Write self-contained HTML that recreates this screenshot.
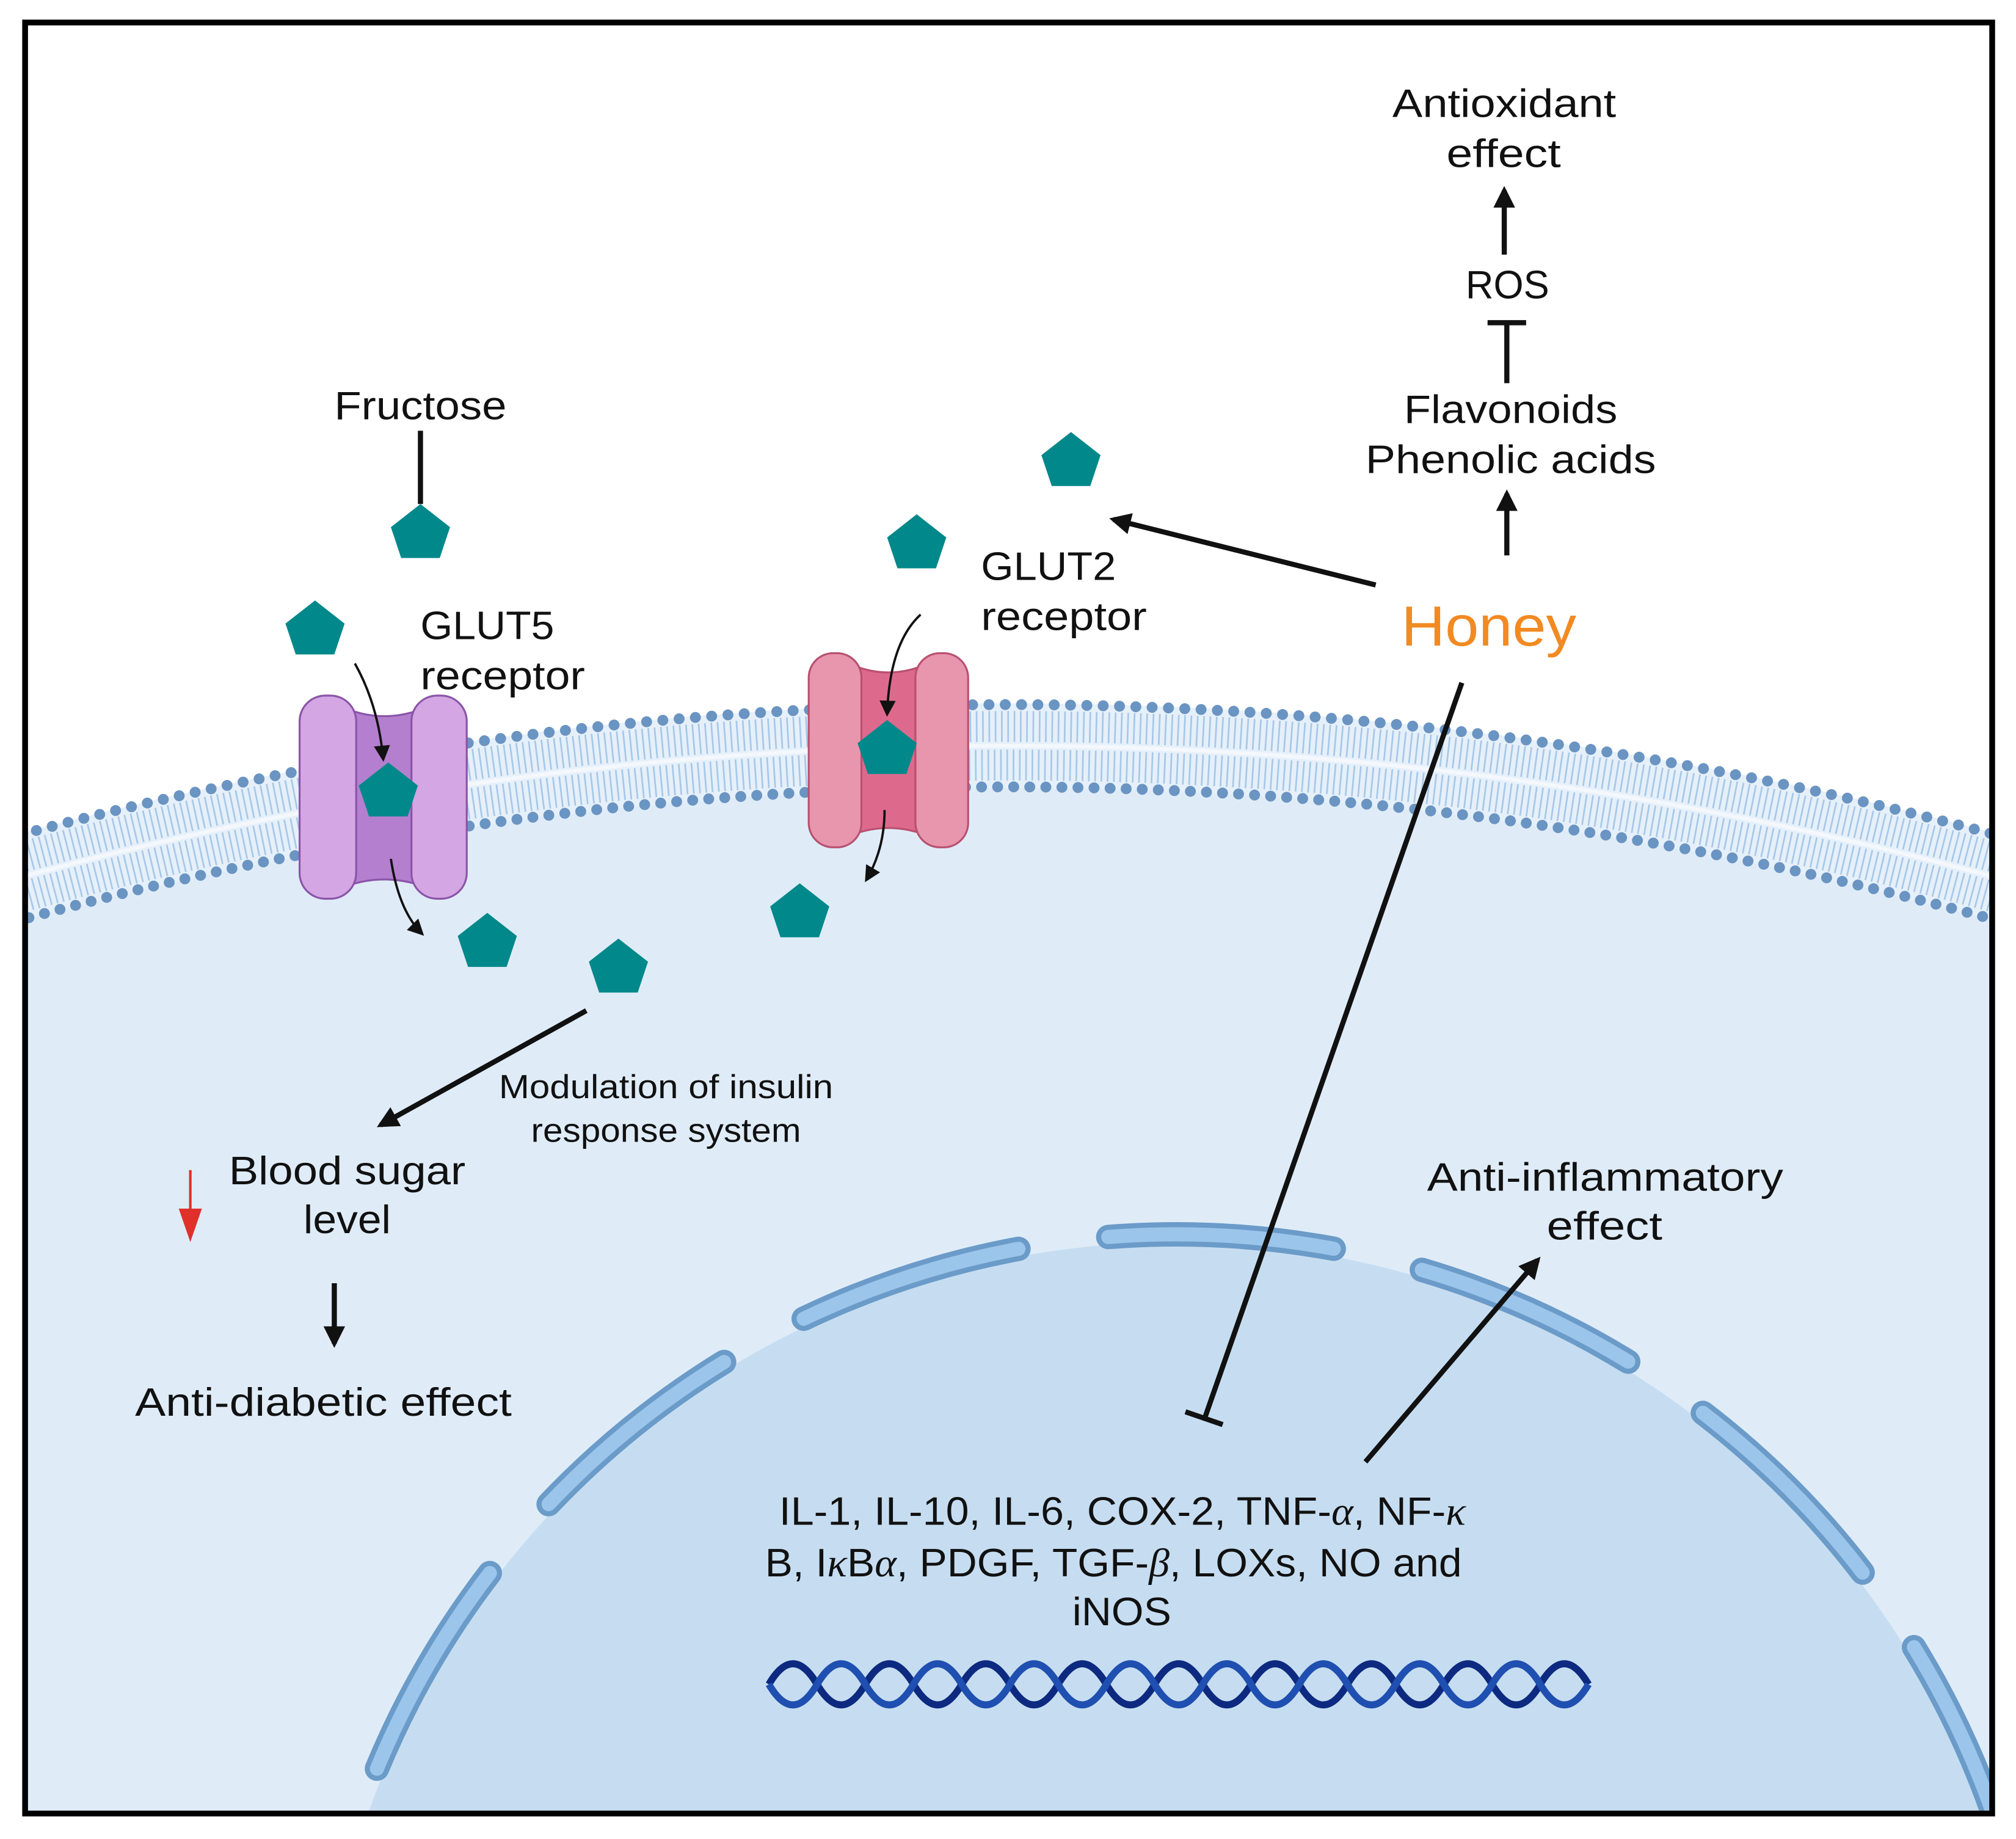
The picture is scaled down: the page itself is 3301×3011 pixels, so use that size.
<!DOCTYPE html>
<html><head><meta charset="utf-8"><style>
html,body{margin:0;padding:0;background:#fff;width:3301px;height:3011px;overflow:hidden;}
svg{display:block;position:absolute;left:0;top:0;}
text{font-family:"Liberation Sans",sans-serif;fill:#111;}
</style></head><body>
<svg width="3301" height="3011" viewBox="0 0 1568 1430.3" xmlns="http://www.w3.org/2000/svg">
<defs>
<clipPath id="frame"><rect x="21" y="19" width="1528" height="1391"/></clipPath>
<path id="pent" d="M0,-21 L23,-3 L15,21 L-15,21 L-23,-3 Z" fill="#00888a"/>
<marker id="ah" viewBox="0 0 10 10" refX="8" refY="5" markerWidth="4.2" markerHeight="4.2" orient="auto" markerUnits="strokeWidth"><path d="M0,0 L10,5 L0,10 Z" fill="#111"/></marker>
<marker id="ahs" viewBox="0 0 10 10" refX="8" refY="5" markerWidth="7" markerHeight="7" orient="auto" markerUnits="strokeWidth"><path d="M0,0 L10,5 L0,10 Z" fill="#111"/></marker>
</defs>
<rect x="0" y="0" width="1568" height="1430.3" fill="#fff"/>
<g clip-path="url(#frame)">
  <circle cx="784" cy="3513" r="2932" fill="#dfecf8"/>
  <circle cx="784" cy="3513" r="2933" fill="none" stroke="#e6f0fa" stroke-width="66"/>
  <circle cx="784" cy="3513" r="2948" fill="none" stroke="#a7c8e8" stroke-width="24" stroke-dasharray="1.3 3.6"/>
  <circle cx="784" cy="3513" r="2918" fill="none" stroke="#a7c8e8" stroke-width="24" stroke-dasharray="1.3 3.6"/>
  <circle cx="784" cy="3513" r="2933" fill="none" stroke="#f4f8fd" stroke-width="3"/>
  <circle cx="784" cy="3513" r="2965" fill="none" stroke="#6a94c2" stroke-width="8.5" stroke-linecap="round" stroke-dasharray="0 12.7"/>
  <circle cx="784" cy="3513" r="2901" fill="none" stroke="#6a94c2" stroke-width="8.5" stroke-linecap="round" stroke-dasharray="0 12.5"/>
  <circle cx="915" cy="1633" r="667" fill="#c6ddf1"/>
  <circle cx="915" cy="1633" r="673" fill="none" stroke="#6b9bc8" stroke-width="19" stroke-linecap="round" pathLength="360" stroke-dasharray="15 6" stroke-dashoffset="7.5"/>
  <circle cx="915" cy="1633" r="673" fill="none" stroke="#9cc5eb" stroke-width="11" stroke-linecap="round" pathLength="360" stroke-dasharray="15 6" stroke-dashoffset="7.5"/>
</g>
<rect x="19.5" y="17.5" width="1530" height="1393" fill="none" stroke="#000" stroke-width="4.5"/>

<g stroke="#8a55a8" stroke-width="1.5">
  <path d="M262,548 Q299,566 336,548 L336,692 Q299,676 262,692 Z" fill="#b47fcf"/>
  <rect x="233" y="541" width="44" height="158" rx="20" fill="#d4a6e3"/>
  <rect x="320" y="541" width="43" height="158" rx="20" fill="#d4a6e3"/>
</g>
<g stroke="#b8506f" stroke-width="1.5">
  <path d="M656,514 Q691,532 726,514 L726,652 Q691,636 656,652 Z" fill="#dd6a8c"/>
  <rect x="629" y="508" width="41" height="151" rx="19" fill="#e895ae"/>
  <rect x="712" y="508" width="41" height="151" rx="19" fill="#e895ae"/>
</g>

<use href="#pent" x="327" y="413"/>
<use href="#pent" x="245" y="488"/>
<use href="#pent" x="302" y="614"/>
<use href="#pent" x="379" y="731"/>
<use href="#pent" x="481" y="751"/>
<use href="#pent" x="622" y="708"/>
<use href="#pent" x="690" y="581"/>
<use href="#pent" x="713" y="421"/>
<use href="#pent" x="833" y="357"/>

<g fill="none" stroke="#111" stroke-width="1.8">
  <path d="M276,516 Q294,548 298,590" marker-end="url(#ahs)"/>
  <path d="M304,668 Q310,708 328,726" marker-end="url(#ahs)"/>
  <path d="M716,478 Q692,500 690,555" marker-end="url(#ahs)"/>
  <path d="M688,630 Q688,660 674,684" marker-end="url(#ahs)"/>
</g>

<g stroke="#111" stroke-width="4" fill="none">
  <line x1="327" y1="335" x2="327" y2="392"/>
  <line x1="1070" y1="455" x2="866" y2="404" marker-end="url(#ah)"/>
  <line x1="1172" y1="432" x2="1172" y2="384" marker-end="url(#ah)"/>
  <line x1="1172" y1="298" x2="1172" y2="251"/>
  <line x1="1157" y1="251" x2="1187" y2="251"/>
  <line x1="1170" y1="198" x2="1170" y2="148" marker-end="url(#ah)"/>
  <line x1="1137" y1="531" x2="937" y2="1103"/>
  <line x1="922" y1="1098" x2="951" y2="1108"/>
  <line x1="1062" y1="1137" x2="1196" y2="980" marker-end="url(#ah)"/>
  <line x1="456" y1="786" x2="296" y2="875" marker-end="url(#ah)"/>
  <line x1="260" y1="998" x2="260" y2="1045" marker-end="url(#ah)"/>
</g>
<line x1="148" y1="910" x2="148" y2="945" stroke="#e0302a" stroke-width="2"/>
<path d="M139,940 L157,940 L148,966 Z" fill="#e0302a"/>

<g fill="none" stroke-width="5.5">
<path stroke="#0d2a80" d="M598,1310 q18.75,-32 37.5,0 t37.5,0 t37.5,0 t37.5,0 t37.5,0 t37.5,0 t37.5,0 t37.5,0 t37.5,0 t37.5,0 t37.5,0 t37.5,0 t37.5,0 t37.5,0 t37.5,0 t37.5,0 t37.5,0"/>
<path stroke="#1f4fb0" d="M598,1310 q18.75,32 37.5,0 t37.5,0 t37.5,0 t37.5,0 t37.5,0 t37.5,0 t37.5,0 t37.5,0 t37.5,0 t37.5,0 t37.5,0 t37.5,0 t37.5,0 t37.5,0 t37.5,0 t37.5,0 t37.5,0"/>
</g>

<g font-size="31">
<text x="260" y="326" textLength="134" lengthAdjust="spacingAndGlyphs">Fructose</text>
<text x="327" y="497" textLength="104" lengthAdjust="spacingAndGlyphs">GLUT5</text>
<text x="327" y="536" textLength="128" lengthAdjust="spacingAndGlyphs">receptor</text>
<text x="763" y="451" textLength="105" lengthAdjust="spacingAndGlyphs">GLUT2</text>
<text x="763" y="490" textLength="129" lengthAdjust="spacingAndGlyphs">receptor</text>
<text x="1083" y="91" textLength="174" lengthAdjust="spacingAndGlyphs">Antioxidant</text>
<text x="1125" y="130" textLength="89" lengthAdjust="spacingAndGlyphs">effect</text>
<text x="1140" y="232" textLength="65" lengthAdjust="spacingAndGlyphs">ROS</text>
<text x="1092" y="329" textLength="166" lengthAdjust="spacingAndGlyphs">Flavonoids</text>
<text x="1062" y="368" textLength="226" lengthAdjust="spacingAndGlyphs">Phenolic acids</text>
<text x="178" y="921" textLength="184" lengthAdjust="spacingAndGlyphs">Blood sugar</text>
<text x="236" y="959" textLength="68" lengthAdjust="spacingAndGlyphs">level</text>
<text x="105" y="1101" textLength="293" lengthAdjust="spacingAndGlyphs">Anti-diabetic effect</text>
<text x="1110" y="926" textLength="277" lengthAdjust="spacingAndGlyphs">Anti-inflammatory</text>
<text x="1203" y="964" textLength="90" lengthAdjust="spacingAndGlyphs">effect</text>
<text x="606" y="1186" textLength="534" lengthAdjust="spacingAndGlyphs">IL-1, IL-10, IL-6, COX-2, TNF-<tspan font-style="italic" font-family="Liberation Serif">α</tspan>, NF-<tspan font-style="italic" font-family="Liberation Serif">κ</tspan></text>
<text x="595" y="1226" textLength="542" lengthAdjust="spacingAndGlyphs">B, I<tspan font-style="italic" font-family="Liberation Serif">κ</tspan>B<tspan font-style="italic" font-family="Liberation Serif">α</tspan>, PDGF, TGF-<tspan font-style="italic" font-family="Liberation Serif">β</tspan>, LOXs, NO and</text>
<text x="834" y="1264" textLength="77" lengthAdjust="spacingAndGlyphs">iNOS</text>
</g>
<text x="388" y="854" font-size="26" textLength="260" lengthAdjust="spacingAndGlyphs">Modulation of insulin</text>
<text x="413" y="888" font-size="26" textLength="210" lengthAdjust="spacingAndGlyphs">response system</text>
<text x="1090" y="502" font-size="44" style="fill:#f28a22" textLength="136" lengthAdjust="spacingAndGlyphs">Honey</text>
</svg>
</body></html>
